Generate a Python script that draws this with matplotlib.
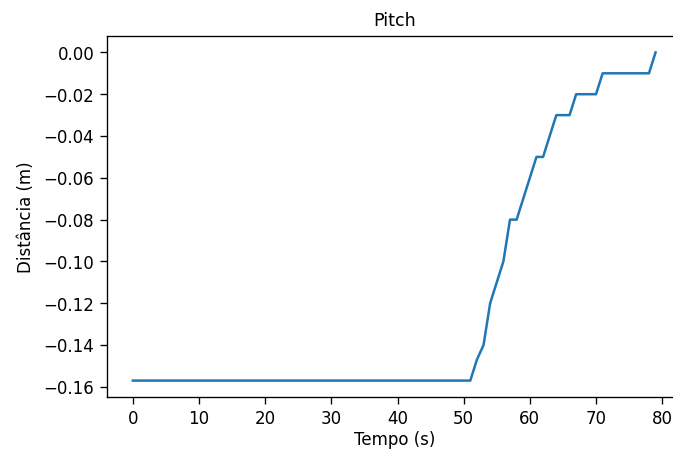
import numpy as np
import matplotlib
matplotlib.use("Agg")
import matplotlib.pyplot as plt

# pitch distance per second
tempo = list(range(80))
distancia = [-0.157] * 52 + [
    -0.147, -0.14, -0.12, -0.11, -0.10, -0.08, -0.08, -0.07, -0.06, -0.05,
    -0.05, -0.04, -0.03, -0.03, -0.03, -0.02, -0.02, -0.02, -0.02,
    -0.01, -0.01, -0.01, -0.01, -0.01, -0.01, -0.01, -0.01, 0.0,
]

dpi = 120
fig = plt.figure(figsize=(673.4 / dpi, 450.4 / dpi), dpi=dpi)
ax = fig.add_axes([106.7 / 673.4, 53 / 450.4, 575 / 673.4, 361 / 450.4])
ax.plot(tempo, distancia, color="#1f77b4", linewidth=1.5)
ax.set_title("Pitch", fontsize=10.5)
ax.set_xlabel("Tempo (s)", fontsize=10, labelpad=2)
ax.set_ylabel("Distância (m)", fontsize=10, labelpad=5)
ax.set_xticks(np.arange(0, 81, 10))
ax.tick_params(labelsize=10, length=4)
# the original picture is cropped on the right, no right spine shows
ax.spines["right"].set_visible(False)
fig.savefig("out.png", dpi=dpi)
